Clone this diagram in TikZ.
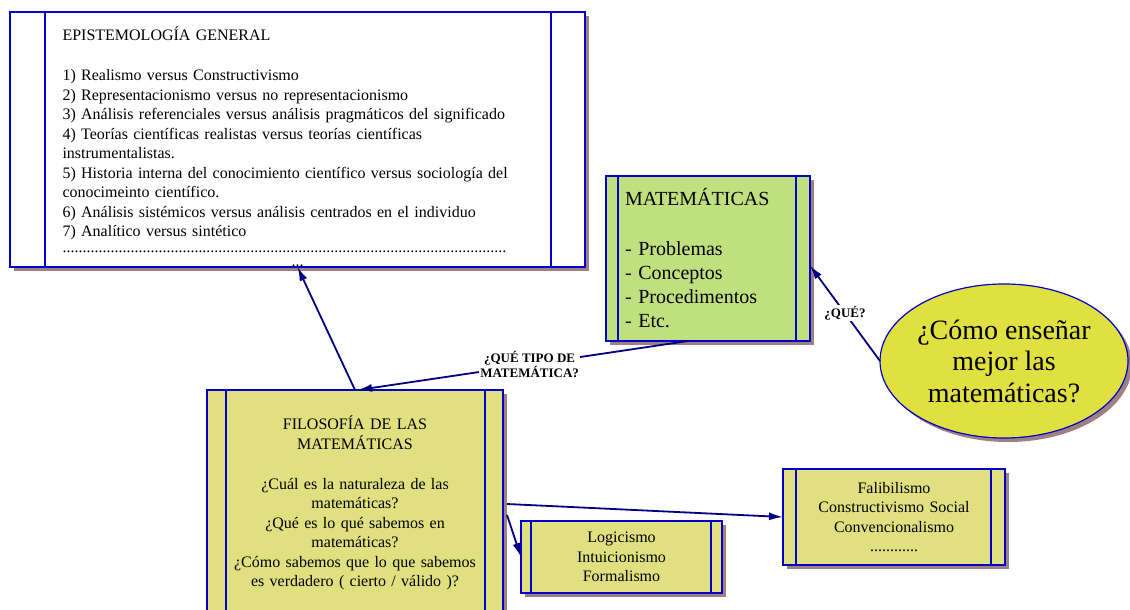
\documentclass[tikz,border=0pt]{standalone}
\usepackage{fontspec}
\setmainfont{Liberation Serif}
\usetikzlibrary{shapes.geometric,shadows,arrows.meta}
\definecolor{azulborde}{RGB}{0,0,204}
\definecolor{azulflecha}{RGB}{0,0,128}
\definecolor{verdecaja}{RGB}{192,224,128}
\definecolor{caqui}{RGB}{224,224,128}
\definecolor{amarillo}{RGB}{224,224,64}
\definecolor{sombra}{RGB}{160,128,128}
\tikzstyle{caja}=[draw=azulborde,line width=1.2pt,outer sep=0pt,inner sep=0pt,
  drop shadow={shadow xshift=4pt,shadow yshift=-4pt,fill=sombra,opacity=1},
  font=\fontsize{16}{19.5}\selectfont]
\tikzstyle{flecha}=[draw=azulflecha,line width=1.8pt,-{Latex[length=14pt,width=8pt]}]
\tikzstyle{pregunta}=[fill=white,inner sep=1pt,align=center,
  font=\bfseries\fontsize{13}{15}\selectfont]

\begin{document}
\begin{tikzpicture}[x=1pt,y=-1pt]
\useasboundingbox (0,0) rectangle (1130,610);
\node[caja,fill=white,minimum width=575pt,minimum height=255pt,text width=470pt,align=left,
  label={[anchor=south,inner sep=0pt,text height=3pt,text depth=0pt,
    font=\fontsize{16}{19.5}\selectfont]south:...}]
  (epi) at (297.5,139.5) {EPISTEMOLOGÍA GENERAL\\[20.5pt]
  1) Realismo versus Constructivismo\\
  2) Representacionismo versus no representacionismo\\
  3) Análisis referenciales versus análisis pragmáticos del significado\\
  4) Teorías científicas realistas versus teorías científicas\\
  instrumentalistas.\\
  5) Historia interna del conocimiento científico versus sociología del\\
  conocimeinto científico.\\
  6) Análisis sistémicos versus análisis centrados en el individuo\\
  7) Analítico versus sintético\\[-4pt]
  \makebox[447pt][l]{\leaders\hbox{.}\hfill}};
\node[caja,fill=verdecaja,minimum width=204pt,minimum height=165pt,text width=166pt,align=left,
  font=\fontsize{20}{24}\selectfont] (mat) at (708,258.5)
  {MATEMÁTICAS\\[26pt]- Problemas\\- Conceptos\\- Procedimentos\\- Etc.};
\node[caja,ellipse,fill=amarillo,minimum width=248pt,minimum height=154pt,align=center,
  font=\fontsize{28}{31.5}\selectfont] (como) at (1004,361)
  {¿Cómo enseñar\\mejor las\\matemáticas?};
\node[caja,fill=caqui,minimum width=296pt,minimum height=226pt,text width=270pt,align=center]
  (filo) at (355,503) {FILOSOFÍA DE LAS\\MATEMÁTICAS\\[20.5pt]
  ¿Cuál es la naturaleza de las\\matemáticas?\\
  ¿Qué es lo qué sabemos en\\matemáticas?\\
  ¿Cómo sabemos que lo que sabemos\\es verdadero ( cierto / válido )?};
\node[caja,fill=caqui,minimum width=201pt,minimum height=72pt,text width=180pt,align=center]
  (logi) at (621.5,557) {Logicismo\\Intuicionismo\\Formalismo};
\node[caja,fill=caqui,minimum width=222pt,minimum height=96pt,text width=190pt,align=center]
  (fali) at (894,517) {Falibilismo\\Constructivismo Social\\Convencionalismo\\............};
\foreach \n/\a/\b in {epi/35/34,mat/12/14,filo/19/18,logi/10/11,fali/13/14}
  \draw[azulborde,line width=1.2pt] ([xshift=\a pt]\n.north west) -- ([xshift=\a pt]\n.south west)
    ([xshift=-\b pt]\n.north east) -- ([xshift=-\b pt]\n.south east);
\draw[flecha] (filo.north) -- (epi.south);
\draw[flecha] ([xshift=-20pt]mat.south) -- node[pregunta,pos=0.48]{¿QUÉ TIPO DE\\MATEMÁTICA?}
  ([xshift=3pt]filo.north);
\draw[flecha] (como.west) -- node[pregunta]{¿QUÉ?} ([yshift=-7pt]mat.east);
\draw[flecha] ([xshift=4pt,yshift=-1pt]filo.east) -- (fali.west);
\draw[flecha] ([xshift=4pt,yshift=-12pt]filo.east) -- (logi.west);
\end{tikzpicture}
\end{document}
